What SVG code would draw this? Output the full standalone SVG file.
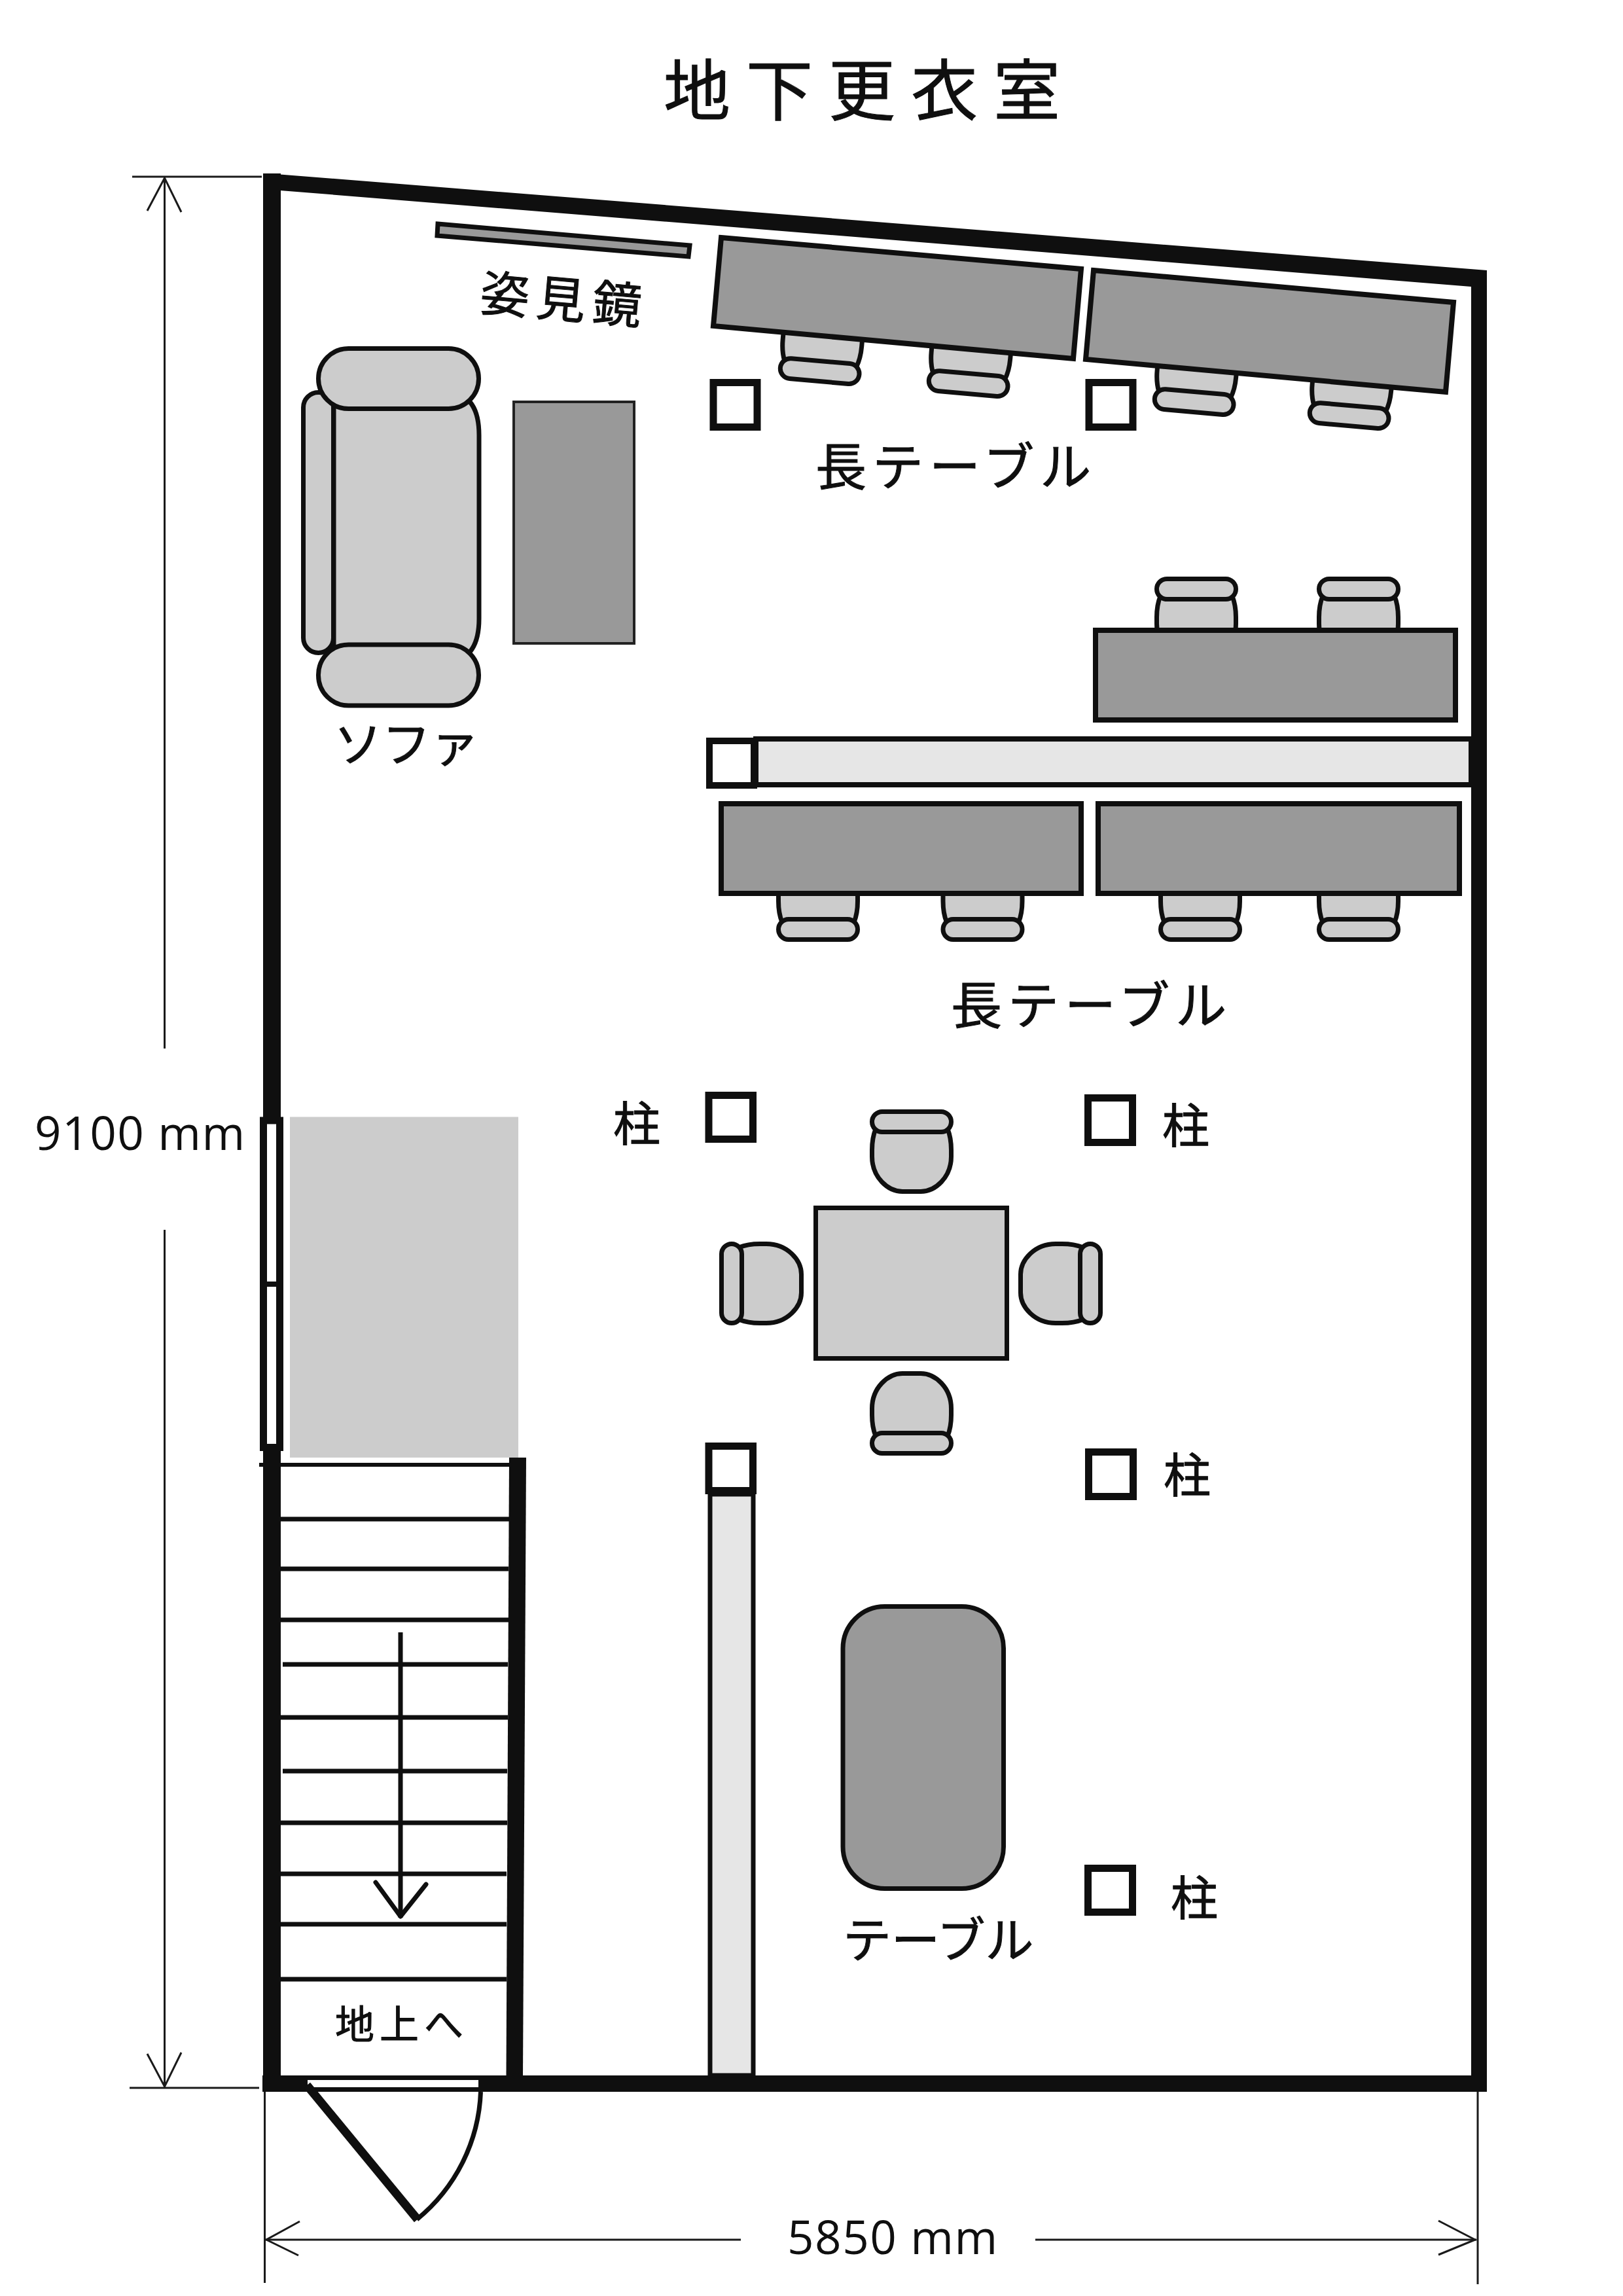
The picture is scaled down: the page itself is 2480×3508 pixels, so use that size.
<svg xmlns="http://www.w3.org/2000/svg" xmlns:xlink="http://www.w3.org/1999/xlink" width="2480" height="3508" viewBox="0 0 2480 3508">
<style>
.wall{fill:#0f0f0f}
.st{stroke:#0f0f0f;stroke-width:7;fill:none}
.f1{fill:#ccc;stroke:#0f0f0f;stroke-width:7}
.f2{fill:#999;stroke:#0f0f0f;stroke-width:8}
.div{fill:#e6e6e6;stroke:#0f0f0f;stroke-width:8}
.pil{fill:#fff;stroke:#0f0f0f;stroke-width:11}
.dim{stroke:#1a1a1a;stroke-width:3;fill:none}
text{fill:#0f0f0f;stroke:#0f0f0f;stroke-width:1;font-family:"Noto Sans CJK JP","Noto Sans",sans-serif}
.num{font-family:"Open Sans","Noto Sans",sans-serif;font-size:71px;letter-spacing:1.500px;stroke:none}
.lab{font-size:78px;letter-spacing:9px}
</style>
<defs>
<g id="chair">
<path class="f1" d="M-55,30C-59,40 -60.500,50 -60.500,62V72C-60.500,104 -36,125.500 -14,125.500H14C36,125.500 60.500,104 60.500,72V62C60.500,50 59,40 55,30Z"/>
<rect class="f1" x="-60.500" y="3.500" width="121" height="31" rx="15.500"/>
</g>
</defs>
<rect width="2480" height="3508" fill="#fff"/>
<text id="title" x="1014" y="176" font-size="102" letter-spacing="24">地下更衣室</text>
<g id="stair-landing"><rect x="443" y="1706.500" width="349" height="520.500" fill="#ccc"/></g>
<g id="walls">
<rect class="wall" x="402" y="265" width="27" height="1442"/>
<rect class="wall" x="402" y="2217" width="27" height="979"/>
<polygon class="wall" points="402,265 428,266.500 2272,413 2272,440 2248,438 428,291 402,290"/>
<rect class="wall" x="2248" y="413" width="24" height="2783"/>
<rect class="wall" x="401" y="3171" width="1871" height="25"/>
</g>
<g id="window">
<rect x="402.500" y="1712" width="25" height="499.500" fill="#fff" stroke="#0f0f0f" stroke-width="11"/>
<rect class="wall" x="408" y="1958" width="14" height="8"/>
</g>
<g id="stairs">
<rect class="wall" x="396" y="2235" width="382" height="6"/>
<path class="st" d="M428 2321H778M428 2397H777M428 2475H777M432 2543H776M428 2624H776M432 2706H775M428 2785H775M428 2863H774M428 2940H774M428 3024H774"/>
<polygon class="wall" points="778,2227 804,2227 799,3171 773.500,3171"/>
<text x="512" y="3115" font-size="60" letter-spacing="8">地上へ</text>
<path class="st" d="M612 2494V2930"/>
<path class="st" stroke-linecap="round" stroke-linejoin="round" d="M574 2876L612 2928L651 2879"/>
</g>
<g id="door">
<rect x="470" y="3178" width="261" height="11" fill="#fff"/>
<path d="M637 3391A264 264 0 0 0 734.500 3196" class="st"/>
<path d="M469 3186L638 3391" fill="none" stroke="#0f0f0f" stroke-width="13"/>
</g>
<g id="mirror">
<polygon points="669,342 1054,375 1052,392 668,360" fill="#999" stroke="#0f0f0f" stroke-width="7"/>
<text transform="translate(732 474) rotate(5)" font-size="75" letter-spacing="11">姿見鏡</text>
</g>
<g id="sofa">
<rect class="f1" x="463.500" y="599.500" width="46" height="398" rx="23"/>
<path class="f1" d="M510 600H690Q732 605 732 665V945Q732 1005 690 1010H510Z"/>
<rect class="f1" x="486.500" y="532.500" width="245" height="92" rx="46"/>
<rect class="f1" x="486.500" y="985" width="245" height="93" rx="46"/>
<text x="510" y="1164" font-size="74">ソファ</text>
</g>
<g id="low-table"><rect x="785" y="614" width="184" height="369" fill="#999" stroke="#222" stroke-width="4"/></g>
<g id="long-table-top">
<use xlink:href="#chair" transform="translate(1251 586) rotate(185)"/>
<use xlink:href="#chair" transform="translate(1478 605) rotate(185)"/>
<use xlink:href="#chair" transform="translate(1823 633) rotate(185)"/>
<use xlink:href="#chair" transform="translate(2060 654) rotate(185)"/>
<polygon class="f2" points="1102,363 1652,411 1640,548 1090,498"/>
<polygon class="f2" points="1671,413 2221,462 2209,599 1659,549"/>
<text class="lab" x="1246" y="742">長テーブル</text>
</g>
<g id="pillar-1"><rect class="pil" x="1090" y="584.500" width="67" height="68"/></g>
<g id="pillar-2"><rect class="pil" x="1664" y="584.500" width="67" height="68"/></g>
<g id="long-table-mid">
<use xlink:href="#chair" transform="translate(1828 881)"/>
<use xlink:href="#chair" transform="translate(2076 881)"/>
<rect class="f2" x="1674" y="963" width="550" height="137"/>
</g>
<g id="partition-h">
<rect class="div" x="1155" y="1129" width="1093" height="70"/>
</g>
<g id="pillar-3"><rect fill="#fff" stroke="#0f0f0f" stroke-width="10" x="1084" y="1132" width="68" height="68"/></g>
<g id="long-table-low">
<use xlink:href="#chair" transform="translate(1250 1439) rotate(180)"/>
<use xlink:href="#chair" transform="translate(1501.500 1439) rotate(180)"/>
<use xlink:href="#chair" transform="translate(1834 1439) rotate(180)"/>
<use xlink:href="#chair" transform="translate(2076 1439) rotate(180)"/>
<rect class="f2" x="1102" y="1228" width="550" height="137"/>
<rect class="f2" x="1678" y="1228" width="552" height="137"/>
<text class="lab" x="1453" y="1565">長テーブル</text>
</g>
<g id="pillar-4"><rect class="pil" x="1083" y="1673.500" width="67.500" height="67"/><text x="937" y="1743" font-size="72">柱</text></g>
<g id="pillar-5"><rect class="pil" x="1662.500" y="1677.500" width="68" height="68"/><text x="1776" y="1746" font-size="72">柱</text></g>
<g id="partition-v"><rect fill="#e6e6e6" stroke="#0f0f0f" stroke-width="7" x="1085" y="2283" width="66" height="888"/></g>
<g id="pillar-6"><rect class="pil" x="1083" y="2209.500" width="67.500" height="68"/></g>
<g id="pillar-7"><rect class="pil" x="1663.500" y="2218.500" width="68" height="68"/><text x="1778" y="2280" font-size="72">柱</text></g>
<g id="pillar-8"><rect class="pil" x="1662.500" y="2854.500" width="68" height="67"/><text x="1789" y="2926" font-size="72">柱</text></g>
<g id="square-table">
<use xlink:href="#chair" transform="translate(1393 1695)"/>
<use xlink:href="#chair" transform="translate(1393 2224) rotate(180)"/>
<use xlink:href="#chair" transform="translate(1099 1961) rotate(-90)"/>
<use xlink:href="#chair" transform="translate(1685 1961) rotate(90)"/>
<rect x="1246.500" y="1845.500" width="292" height="230" fill="#ccc" stroke="#0f0f0f" stroke-width="7"/>
</g>
<g id="oval-table">
<rect x="1288" y="2454.500" width="245.500" height="431" rx="64" fill="#999" stroke="#0f0f0f" stroke-width="7"/>
<text x="1288" y="2991" font-size="74">テーブル</text>
</g>
<g id="connectors">
<path class="dim" d="M202 270H400M251.500 270V1602M251.500 1879V3190M198 3190H396"/>
<path class="dim" d="M225 322L251.500 272L277 324M225 3138L251.500 3188L277 3136"/>
<path class="dim" d="M404.500 3196V3488M2258 3196V3490M405 3422H1132M1582 3422H2256"/>
<path class="dim" d="M458 3394L407 3422L456 3446M2198 3393L2254 3422L2198 3445"/>
</g>
<text class="num" x="53" y="1757">9100 mm</text>
<text class="num" x="1203" y="3444">5850 mm</text>
</svg>
